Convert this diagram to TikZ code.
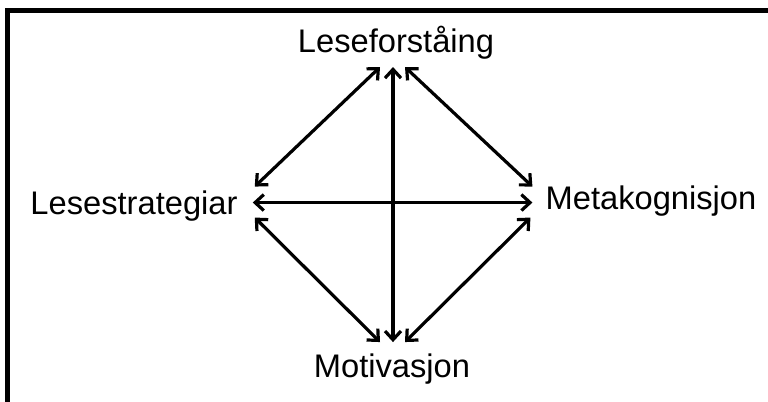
\documentclass[tikz,border=0pt]{standalone}
\usepackage{fontspec}
\setmainfont{Liberation Sans}
\usetikzlibrary{arrows.meta, calc}

\begin{document}
\begin{tikzpicture}[
  x=0.75pt, y=-0.75pt,
  font=\fontsize{24.5}{28}\selectfont,
  term/.style={inner sep=0pt, anchor=base},
  link/.style={{Straight Barb[length=6.5pt,width=12pt]}-{Straight Barb[length=6.5pt,width=12pt]},
               line width=2.4pt},
  frame/.style={line width=3.75pt},
]
\useasboundingbox (0,0) rectangle (768,401);
\draw[frame] (7.5,405) |- (772,10.5);

\node[term] (lese)  at (396,52)  {Leseforståing};
\node[term] (strat) at (134,214) {Lesestrategiar};
\node[term] (meta)  at (651,209) {Metakognisjon};
\node[term] (motiv) at (392,377) {Motivasjon};

\draw[link] ($(lese.south)+(-16,8)$) -- ($(strat.east)+(17,-19)$);
\draw[link] ($(lese.south)+(9,8)$) -- ($(meta.west)+(-13,-14)$);
\draw[link] ($(lese.south)+(-3,8)$) -- ($(motiv.north)+(1,-11)$);
\draw[link] ($(strat.east)+(15,-3)$) -- ($(meta.west)+(-13,2)$);
\draw[link] ($(strat.east)+(17,12)$) -- ($(motiv.north)+(-12,-11)$);
\draw[link] ($(meta.west)+(-15,17)$) -- ($(motiv.north)+(13,-11)$);
\end{tikzpicture}
\end{document}
